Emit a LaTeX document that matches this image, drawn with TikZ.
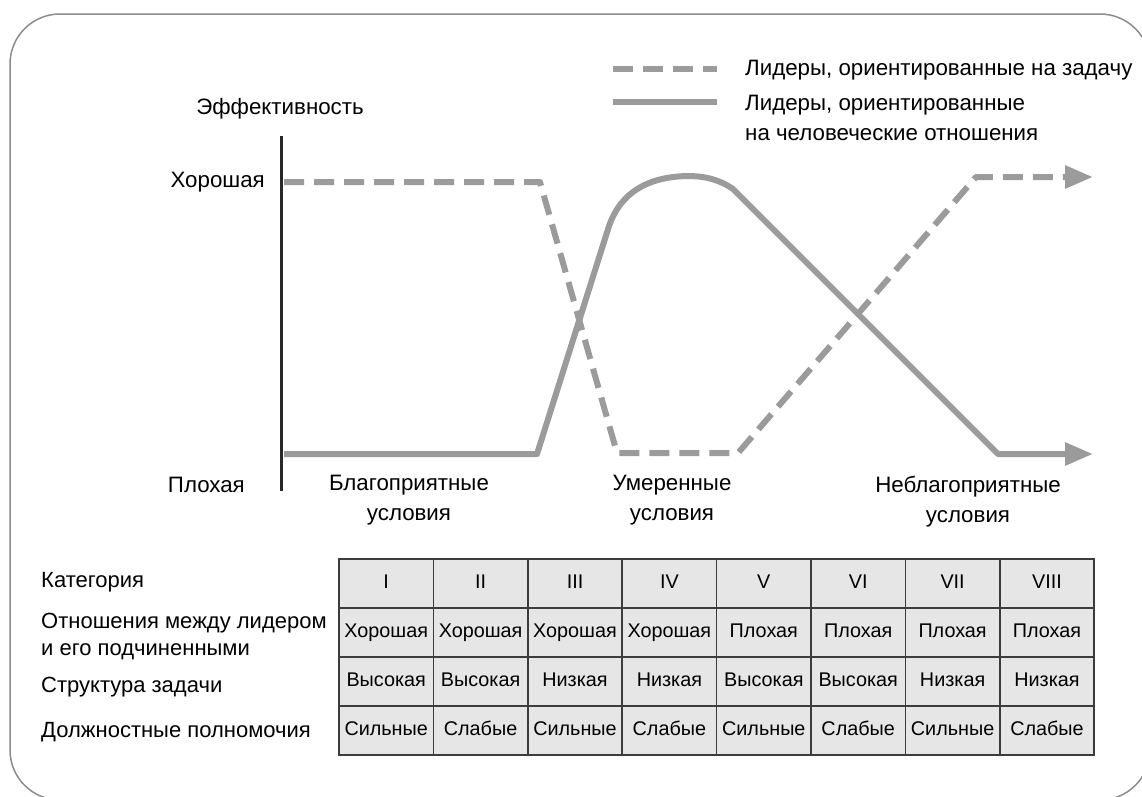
\documentclass[tikz,border=0pt]{standalone}
\usepackage{fontspec}
\setmainfont{Liberation Sans}
\usetikzlibrary{arrows.meta}
\definecolor{curve}{RGB}{155,155,155}
\definecolor{frameline}{RGB}{140,140,140}
\definecolor{cellfill}{RGB}{230,230,230}
\definecolor{cellline}{RGB}{60,60,60}
\definecolor{axisline}{RGB}{40,40,40}
\begin{document}
\begin{tikzpicture}[x=1pt,y=-1pt,
  lbl/.style={font=\fontsize{22.3}{30}\selectfont, inner sep=0pt, align=center},
  rowlbl/.style={font=\fontsize{22}{27}\selectfont, inner sep=0pt, align=left, anchor=west},
  cell/.style={draw=cellline, line width=1.6pt, fill=cellfill, minimum width=94.4pt,
               minimum height=49pt, inner sep=0pt, text height=14pt, text depth=4pt,
               font=\fontsize{19.8}{22}\selectfont},
  taskline/.style={draw=curve, line width=6pt, dash pattern=on 20pt off 10pt, line join=round},
  relline/.style={draw=curve, line width=6pt, line join=round},
  tip/.style={-{Triangle[length=28pt,width=22pt]}}
]
\useasboundingbox (0,0) rectangle (1142,796);

% outer frame (runs past the page on the right and bottom)
\begin{scope}
  \clip (0,0) rectangle (1142,796);
  \draw[frameline, line width=1.5pt, rounded corners=50pt] (10,14) rectangle (1150,800);
\end{scope}

% vertical axis and its labels
\coordinate (axtop) at (281,136);
\coordinate (axbot) at (281,491);
\draw[axisline, line width=3pt] (axtop) -- (axbot);
\node[lbl] (eff) at (280,109) {Эффективность};
\node[lbl, anchor=east] (good) at (265,182) {Хорошая};
\node[lbl, anchor=east] (bad) at (245,485) {Плохая};

% situation labels
\node[lbl] (fav) at (409,500) {Благоприятные\\условия};
\node[lbl] (mod) at (672,500) {Умеренные\\условия};
\node[lbl] (unfav) at (968,502) {Неблагоприятные\\условия};

% task-oriented leaders
\coordinate (t0) at (284,182);
\coordinate (t1) at (540,182);
\coordinate (t2) at (617,453);
\coordinate (t3) at (738,453);
\coordinate (t4) at (976,177);
\coordinate (t5) at (1093,177);
\draw[taskline, tip] (t0) -- (t1) -- (t2) -- (t3) -- (t4) -- (t5);

% relationship-oriented leaders
\coordinate (r0) at (284,454);
\coordinate (r1) at (537,454);
\coordinate (r2) at (609,226);
\coordinate (r3) at (687,176);
\coordinate (r4) at (733,189);
\coordinate (r5) at (998,454);
\coordinate (r6) at (1093,454);
\draw[relline, tip] (r0) -- (r1) -- (r2)
  .. controls (621,192) and (648,177) .. (r3)
  .. controls (706,176) and (720,180) .. (r4)
  -- (r5) -- (r6);

% legend
\coordinate (lg1a) at (613,69);
\coordinate (lg1b) at (717,69);
\coordinate (lg2a) at (613,102);
\coordinate (lg2b) at (717,102);
\draw[taskline] (lg1a) -- (lg1b);
\draw[relline] (lg2a) -- (lg2b);
\node[lbl, anchor=west] (lgtask) at (745,70) {Лидеры, ориентированные на задачу};
\node[lbl, anchor=west, align=left] (lgrel) at (745,117.5) {Лидеры, ориентированные\\на человеческие отношения};

% table row captions
\node[rowlbl] (hcat) at (41,582) {Категория};
\node[rowlbl] (hrel) at (41,636.5) {Отношения между лидером\\и его подчиненными};
\node[rowlbl] (hstr) at (41,687) {Структура задачи};
\node[rowlbl] (hpow) at (41,732) {Должностные полномочия};

% table cells
\foreach \i/\a/\b/\c/\d in {
  1/I/Хорошая/Высокая/Сильные,
  2/II/Хорошая/Высокая/Слабые,
  3/III/Хорошая/Низкая/Сильные,
  4/IV/Хорошая/Низкая/Слабые,
  5/V/Плохая/Высокая/Сильные,
  6/VI/Плохая/Высокая/Слабые,
  7/VII/Плохая/Низкая/Сильные,
  8/VIII/Плохая/Низкая/Слабые}{
  \pgfmathsetmacro{\cx}{339+94.4*(\i-0.5)}
  \node[cell] (cat\i) at (\cx,583.5) {\a};
  \node[cell] (rel\i) at (\cx,632.5) {\b};
  \node[cell] (str\i) at (\cx,681.5) {\c};
  \node[cell] (pow\i) at (\cx,730.5) {\d};
}
\end{tikzpicture}
\end{document}
